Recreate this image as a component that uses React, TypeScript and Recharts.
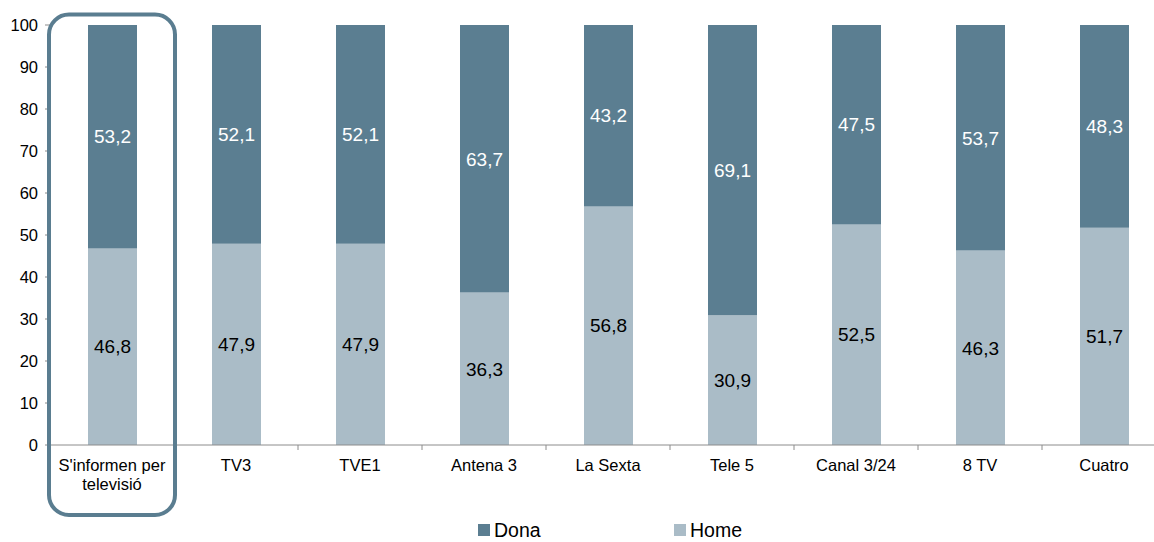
import { BarChart, Bar, XAxis, YAxis, LabelList, Legend } from 'recharts'

const categories = [
  "S'informen per\ntelevisió",
  'TV3',
  'TVE1',
  'Antena 3',
  'La Sexta',
  'Tele 5',
  'Canal 3/24',
  '8 TV',
  'Cuatro',
]
const home = [46.8, 47.9, 47.9, 36.3, 56.8, 30.9, 52.5, 46.3, 51.7]
const dona = [53.2, 52.1, 52.1, 63.7, 43.2, 69.1, 47.5, 53.7, 48.3]
const yTicks = [0, 10, 20, 30, 40, 50, 60, 70, 80, 90, 100]
const legendOrder = ['Dona', 'Home']

const data = categories.map((name, i) => ({ name, Home: home[i], Dona: dona[i] }))

const FONT = '"Liberation Sans", Arial, sans-serif'
const DONA_COLOR = '#5b7e91'
const HOME_COLOR = '#aabcc7'
const FRAME_COLOR = '#5a7d90'

const CHART_W = 1166
const CHART_H = 542
const Y_W = 50
const X_H = 97
const MARGIN = { top: 25, right: 0, left: 0, bottom: 0 }
const BAND = (CHART_W - Y_W - MARGIN.left - MARGIN.right) / categories.length
const PLOT_TOP = MARGIN.top

const fmt = (v: number) => v.toFixed(1).replace('.', ',')

const CategoryTick = (props: any) => {
  const { x, y, payload, index } = props
  const lines = String(payload.value).split('\n')
  const half = BAND / 2
  return (
    <g>
      <line x1={x + half} y1={y} x2={x + half} y2={y + 5} stroke="#8c8c8c" />
      {index === 0 && (
        <rect
          x={x - 63}
          y={PLOT_TOP - 10.5}
          width={126}
          height={y + 70 - (PLOT_TOP - 10.5)}
          rx={20}
          ry={20}
          fill="none"
          stroke={FRAME_COLOR}
          strokeWidth={4}
        />
      )}
      {lines.map((l, i) => (
        <text
          key={i}
          x={x}
          y={y + 26 + i * 19}
          textAnchor="middle"
          fontFamily={FONT}
          fontSize={16.5}
          fill="#000"
        >
          {l}
        </text>
      ))}
    </g>
  )
}

const renderLegend = (props: any) => {
  const items = [...(props.payload || [])].sort(
    (a: any, b: any) => legendOrder.indexOf(a.value) - legendOrder.indexOf(b.value)
  )
  return (
    <div style={{ display: 'flex', paddingLeft: 478, fontFamily: FONT, fontSize: 19.5, lineHeight: '20px', color: '#000' }}>
      {items.map((it: any) => (
        <div key={it.value} style={{ width: 196, display: 'flex', alignItems: 'center' }}>
          <span style={{ width: 12, height: 12, background: it.color, marginRight: 4, display: 'inline-block' }} />
          <span>{it.value}</span>
        </div>
      ))}
    </div>
  )
}

export default function App() {
  return (
    <div style={{ position: 'absolute', left: 0, top: 0, width: 1154, height: 542, overflow: 'hidden', background: '#fff' }}>
      <BarChart width={CHART_W} height={CHART_H} data={data} margin={MARGIN} barSize={49}>
        <XAxis
          dataKey="name"
          interval={0}
          height={X_H}
          tickLine={false}
          tickSize={0}
          tickMargin={0}
          axisLine={{ stroke: '#8c8c8c' }}
          tick={<CategoryTick />}
        />
        <YAxis
          width={Y_W}
          domain={[0, 100]}
          ticks={yTicks}
          interval={0}
          tickSize={5}
          tickMargin={7}
          tickLine={{ stroke: '#8c8c8c' }}
          axisLine={{ stroke: '#8c8c8c' }}
          tick={{ fill: '#000', fontSize: 16.5, fontFamily: FONT }}
        />
        <Bar dataKey="Home" stackId="a" fill={HOME_COLOR} isAnimationActive={false}>
          <LabelList dataKey="Home" position="center" formatter={(v: any) => fmt(Number(v))} fill="#000" fontSize={19} fontFamily={FONT} />
        </Bar>
        <Bar dataKey="Dona" stackId="a" fill={DONA_COLOR} isAnimationActive={false}>
          <LabelList dataKey="Dona" position="center" formatter={(v: any) => fmt(Number(v))} fill="#fff" fontSize={19} fontFamily={FONT} />
        </Bar>
        <Legend
          layout="horizontal"
          verticalAlign="middle"
          align="center"
          wrapperStyle={{ top: 520, left: 0, width: 1154, height: 20 }}
          content={renderLegend}
        />
      </BarChart>
    </div>
  )
}
